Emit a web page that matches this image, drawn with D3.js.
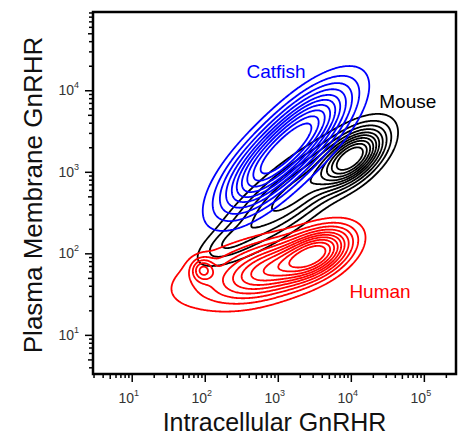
<!DOCTYPE html>
<html><head><meta charset="utf-8">
<script src="https://cdn.jsdelivr.net/npm/d3@7"></script>
<style>
html,body{margin:0;padding:0;background:#fff;}
svg{display:block;font-family:"Liberation Sans",Arial,sans-serif;}
</style></head>
<body>
<svg id="chart" width="461" height="436"></svg>
<script>
// ---- data ----
const xDomain = [Math.pow(10,0.47), Math.pow(10,5.44)];
const yDomain = [Math.pow(10,0.52), Math.pow(10,4.96)];
const xTickExps = [1,2,3,4,5];
const yTickExps = [1,2,3,4];
const xTitle = "Intracellular GnRHR";
const yTitle = "Plasma Membrane GnRHR";
const populations = ["Mouse","Catfish","Human"];
const popColors = ["#000000","#0000ff","#ff0000"];
// density components: [centerX, centerY, sdX (decades), sdY (decades), correlation, weight]
const mouseComponents = [
  [10400, 1480, 0.241, 0.195, 0.56, 1.0],
  [1720, 565, 0.554, 0.405, 0.83, 1.3],
  [208, 134, 0.244, 0.15, 0.67, 0.07]
];
const catfishComponents = [
  [711, 1146, 0.37, 0.33, 0.69, 1.0],
  [2360, 3258, 0.37, 0.33, 0.69, 1.0]
];
const humanComponents = [
  [3228, 98, 0.278, 0.179, 0.46, 1.0],
  [833, 64, 0.392, 0.205, 0.47, 0.9],
  [285, 56, 0.60, 0.267, 0.44, 0.5],
  [94.6, 62.5, 0.096, 0.086, 0.0, 0.058]
];
const contourLevels = [0.04, 0.09, 0.15, 0.22, 0.30, 0.38, 0.47, 0.57, 0.68, 0.80];
const labels = [
  {text:"Catfish", x:946, y:14100, color:"#0000ff"},
  {text:"Mouse", x:60300, y:6040, color:"#000000"},
  {text:"Human", x:25100, y:28.3, color:"#ff0000"}
];

// ---- layout ----
const svg = d3.select("#chart");
const L=93, R=456, T=12, B=374;
const x = d3.scaleLog().domain(xDomain).range([L,R]);
const y = d3.scaleLog().domain(yDomain).range([B,T]);

svg.append("defs").append("clipPath").attr("id","clip")
  .append("rect").attr("x",L).attr("y",T).attr("width",R-L).attr("height",B-T);

// density grid
const step = 1;
const nx = Math.ceil((R-L)/step), ny = Math.ceil((B-T)/step);
function density(comps){
  const pre = comps.map(([cx,cy,sx,sy,r,w])=>({
    mu:Math.log10(cx), mv:Math.log10(cy), sx, sy, r,
    k: w/(sx*sy*Math.sqrt(1-r*r)), d: 1/(2*(1-r*r))
  }));
  const vals = new Float64Array(nx*ny);
  let mx = 0;
  for(let j=0;j<ny;j++){
    const v = Math.log10(y.invert(T + (j+0.5)*step));
    for(let i=0;i<nx;i++){
      const u = Math.log10(x.invert(L + (i+0.5)*step));
      let s = 0;
      for(const c of pre){
        const a=(u-c.mu)/c.sx, b=(v-c.mv)/c.sy;
        s += c.k*Math.exp(-c.d*(a*a - 2*c.r*a*b + b*b));
      }
      vals[j*nx+i]=s; if(s>mx) mx=s;
    }
  }
  for(let k=0;k<vals.length;k++) vals[k]/=mx;
  return vals;
}
const proj = d3.geoTransform({point:function(px,py){ this.stream.point(L+px*step, T+py*step); }});
const path = d3.geoPath(proj);
const compsByPop = [mouseComponents, catfishComponents, humanComponents];
const plot = svg.append("g").attr("clip-path","url(#clip)");
compsByPop.forEach((comps,pi)=>{
  const vals = density(comps);
  const cs = d3.contours().size([nx,ny]).thresholds(contourLevels)(Array.from(vals));
  plot.append("g").selectAll("path").data(cs).join("path")
    .attr("d",path).attr("fill","none")
    .attr("stroke",popColors[pi]).attr("stroke-width",1.8).attr("stroke-linejoin","round");
});

// labels
svg.selectAll("text.pop").data(labels).join("text").attr("class","pop")
  .attr("x",d=>x(d.x)).attr("y",d=>y(d.y)).attr("text-anchor","middle")
  .attr("font-size",19).attr("fill",d=>d.color).text(d=>d.text);

// axes
const supers = {1:"1",2:"2",3:"3",4:"4",5:"5"};
function minorTicks(dom){
  const out=[]; const lo=Math.floor(Math.log10(dom[0])), hi=Math.ceil(Math.log10(dom[1]));
  for(let e=lo;e<=hi;e++) for(let m=1;m<10;m++){ const v=m*Math.pow(10,e); if(v>=dom[0]&&v<=dom[1]) out.push(v);} return out;
}
function mant(d){ return Math.round(d/Math.pow(10,Math.floor(Math.log10(d)+1e-9))); }
const xAxis = d3.axisBottom(x).tickValues(minorTicks(xDomain)).tickSize(0).tickFormat("");
const gx = svg.append("g").attr("transform",`translate(0,${B})`).call(xAxis);
gx.select(".domain").remove();
gx.selectAll(".tick line").attr("y2",d=>{const m=mant(d); return m===1?8:(m===5?5:4);})
  .attr("stroke","#000").attr("stroke-width",1.5);
const yAxis = d3.axisLeft(y).tickValues(minorTicks(yDomain)).tickSize(0).tickFormat("");
const gy = svg.append("g").attr("transform",`translate(${L},0)`).call(yAxis);
gy.select(".domain").remove();
gy.selectAll(".tick line").attr("x2",d=>{const m=mant(d); return -(m===1?8:(m===5?5:4));})
  .attr("stroke","#000").attr("stroke-width",1.5);

// tick labels
xTickExps.forEach(e=>{
  const t = svg.append("text").attr("x",x(Math.pow(10,e))-3).attr("y",B+29)
    .attr("text-anchor","middle").attr("font-size",14).attr("fill","#333");
  t.append("tspan").text("10");
  t.append("tspan").attr("dy",-7).attr("font-size",9).text(supers[e]);
});
yTickExps.forEach(e=>{
  const t = svg.append("text").attr("x",L-14).attr("y",y(Math.pow(10,e))+5)
    .attr("text-anchor","end").attr("font-size",14).attr("fill","#333");
  t.append("tspan").text("10");
  t.append("tspan").attr("dy",-7).attr("font-size",9).text(supers[e]);
});

// frame
svg.append("rect").attr("x",L).attr("y",T).attr("width",R-L).attr("height",B-T)
  .attr("fill","none").attr("stroke","#000").attr("stroke-width",2.5);

// titles
svg.append("text").attr("x",(L+R)/2).attr("y",431).attr("text-anchor","middle")
  .attr("font-size",25).attr("fill","#111").text(xTitle);
svg.append("text").attr("transform",`translate(42,${(T+B)/2+2}) rotate(-90)`)
  .attr("text-anchor","middle").attr("font-size",26).attr("fill","#111").text(yTitle);
</script>
</body></html>
